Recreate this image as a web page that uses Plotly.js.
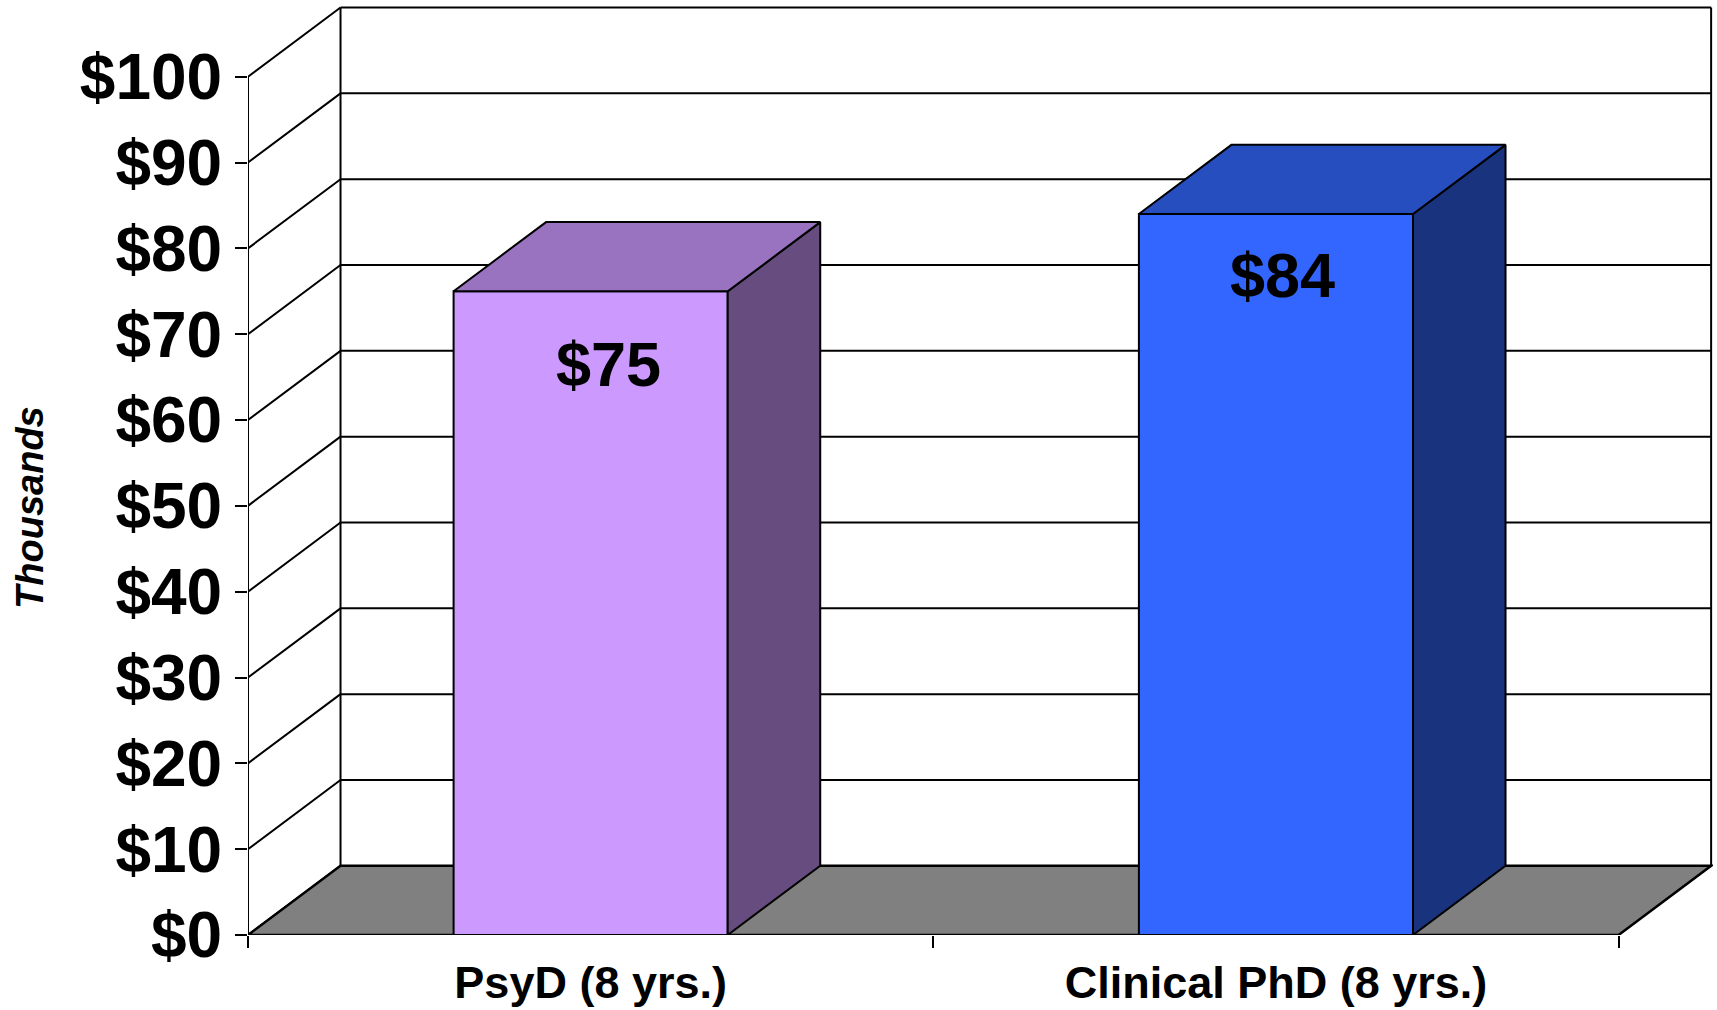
<!DOCTYPE html>
<html>
<head>
<meta charset="utf-8">
<script src="https://cdn.plot.ly/plotly-3.0.1.min.js"></script>
<style>html,body{margin:0;padding:0;background:#fff;}#chart{width:1717px;height:1010px;}</style>
</head>
<body>
<div id="chart"></div>
<script>
// ---- data ----
const categories = ['PsyD (8 yrs.)', 'Clinical PhD (8 yrs.)'];
const values = [75, 84];
const valueLabels = ['$75', '$84'];
const yTickValues = [0, 10, 20, 30, 40, 50, 60, 70, 80, 90, 100];
const yTickLabels = ['$0', '$10', '$20', '$30', '$40', '$50', '$60', '$70', '$80', '$90', '$100'];
const yAxisTitle = 'Thousands';

// ---- style ----
const frontColors = ['#CC99FF', '#3366FF'];
const topColors = ['#9973BF', '#264EBF'];
const sideColors = ['#664C7F', '#19337F'];
const floorColor = '#808080';
const FONT = 'Liberation Sans, Arial, Helvetica, sans-serif';
const labelDx = [0.026, 0.009];   // label offsets (axis units / pixels)
const labelShift = [-73, -61];

// 3D projection (depth offset in axis units) and bar geometry
const DX = 0.135, DY = 8.06;
const HALF = 0.2;
const N = categories.length;
const yMax = yTickValues[yTickValues.length - 1];
const catPos = categories.map((c, i) => i + 0.5);

const traces = [];
// bar front faces
traces.push({
  type: 'bar', x: catPos, y: values, width: 2 * HALF,
  marker: { color: frontColors, line: { color: '#000', width: 2 } },
  hoverinfo: 'skip', showlegend: false
});
// side and top faces
values.forEach((v, i) => {
  const c = catPos[i];
  traces.push({
    type: 'scatter', mode: 'lines', fill: 'toself', fillcolor: sideColors[i],
    x: [c + HALF, c + HALF + DX, c + HALF + DX, c + HALF, c + HALF],
    y: [0, DY, v + DY, v, 0],
    line: { color: '#000', width: 2 }, hoverinfo: 'skip', showlegend: false
  });
  traces.push({
    type: 'scatter', mode: 'lines', fill: 'toself', fillcolor: topColors[i],
    x: [c - HALF, c + HALF, c + HALF + DX, c - HALF + DX, c - HALF],
    y: [v, v, v + DY, v + DY, v],
    line: { color: '#000', width: 2 }, hoverinfo: 'skip', showlegend: false
  });
});

// walls, gridlines, floor
const shapes = [];
const ln = { color: '#000', width: 2 };
yTickValues.forEach(v => {
  if (v > 0) shapes.push({ type: 'line', layer: 'below', xref: 'x', yref: 'y', x0: DX, x1: N + DX, y0: v + DY, y1: v + DY, line: ln });
  shapes.push({ type: 'line', layer: 'below', xref: 'x', yref: 'y', x0: 0, x1: DX, y0: v, y1: v + DY, line: ln });
});
shapes.push({ type: 'line', layer: 'below', xref: 'x', yref: 'y', x0: DX, x1: DX, y0: DY, y1: yMax + DY, line: ln });
shapes.push({ type: 'line', layer: 'below', xref: 'x', yref: 'y', x0: N + DX, x1: N + DX, y0: DY, y1: yMax + DY, line: ln });
shapes.push({ type: 'line', layer: 'below', xref: 'x', yref: 'y', x0: 0, x1: 0, y0: 0, y1: yMax, line: ln });
shapes.push({
  type: 'path', layer: 'below', xref: 'x', yref: 'y',
  path: `M 0,0 L ${N},0 L ${N + DX},${DY} L ${DX},${DY} Z`,
  fillcolor: floorColor, line: { color: '#000', width: 2.5 }
});

const annotations = values.map((v, i) => ({
  xref: 'x', yref: 'y', x: catPos[i] + labelDx[i], y: v, yanchor: 'middle', xanchor: 'center',
  yshift: labelShift[i], text: valueLabels[i], showarrow: false,
  font: { family: FONT, size: 63, color: '#000', weight: 'bold' }
}));
annotations.push({
  xref: 'paper', yref: 'paper', x: -0.149, y: 0.46, xanchor: 'center', yanchor: 'middle',
  text: yAxisTitle, textangle: -90, showarrow: false,
  font: { family: FONT, size: 38, color: '#000', weight: 'bold', style: 'italic' }
});

const layout = {
  width: 1717, height: 1010,
  margin: { l: 248, r: 4, t: 5, b: 75 },
  paper_bgcolor: '#fff', plot_bgcolor: '#fff',
  showlegend: false,
  xaxis: {
    range: [0, 1465 / 685.3], fixedrange: true,
    tickmode: 'array', tickvals: catPos, ticktext: categories,
    ticks: 'outside', ticklen: 0, tickwidth: 0,
    showgrid: false, zeroline: false, showline: false,
    ticklabelstandoff: 8,
    tickfont: { family: FONT, size: 45, color: '#000', weight: 'bold' },
    minor: { tickmode: 'array', tickvals: Array.from({ length: N + 1 }, (_, i) => i), ticks: 'outside', ticklen: 12, tickwidth: 2, tickcolor: '#000', showgrid: false }
  },
  yaxis: {
    range: [0, 930 / 8.583], fixedrange: true,
    tickmode: 'array', tickvals: yTickValues, ticktext: yTickLabels,
    ticks: 'outside', ticklen: 12, tickwidth: 2, tickcolor: '#000',
    showgrid: false, zeroline: false, showline: false,
    ticklabelstandoff: 0,
    tickfont: { family: FONT, size: 64, color: '#000', weight: 'bold' }
  },
  shapes: shapes,
  annotations: annotations,
  bargap: 0
};

Plotly.newPlot('chart', traces, layout, { staticPlot: true, displayModeBar: false });
</script>
</body>
</html>
